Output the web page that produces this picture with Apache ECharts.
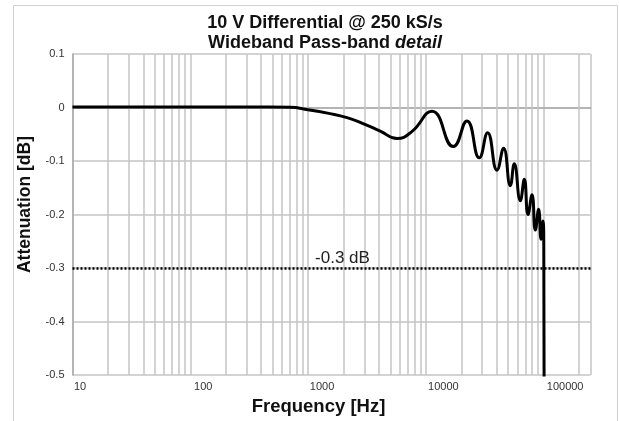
<!DOCTYPE html>
<html>
<head>
<meta charset="utf-8">
<script src="https://cdn.jsdelivr.net/npm/echarts@6/dist/echarts.min.js"></script>
<style>
  html, body { margin: 0; padding: 0; background: #fff; }
  #chart { width: 619px; height: 421px; }
</style>
</head>
<body>
<div id="chart"></div>
<script>
// frequency response (Hz, dB)
const freqHz = [10, 100, 300, 700, 1000, 1500, 2140, 3000, 4100, 5690, 7600, 11270,
  17100, 22340, 28430, 33440, 40180, 45710, 52120, 56360, 63400, 68560,
  73680, 79670, 85030, 90660, 95000, 98800, 100300, 101400]
const attenDb = [0.001, 0.001, 0.001, 0.0005, -0.004, -0.011, -0.019, -0.031, -0.044, -0.058, -0.045, -0.007,
  -0.073, -0.025, -0.094, -0.047, -0.117, -0.076, -0.146, -0.105, -0.174, -0.134,
  -0.2, -0.163, -0.229, -0.19, -0.246, -0.212, -0.26, -0.7]

const yTicks = [0.1, 0, -0.1, -0.2, -0.3, -0.4, -0.5]
const xTickLabels = ['10', '100', '1000', '10000', '100000']
const limitDb = -0.3
const limitLabel = '-0.3 dB'

// minor log grid lines 20..90, 200..900, ...
const minorGrid = []
for (let dec = 10; dec <= 100000; dec *= 10) {
  for (let m = 2; m <= 9; m++) {
    if (dec * m < 250000) minorGrid.push(dec * m)
  }
}

const chart = echarts.init(document.getElementById('chart'))

const gridColor = '#c4c4c4'
const labelShift = { '10': 15, '100': 26, '1000': 28, '10000': 35, '100000': 43 }
const rich = {}
xTickLabels.forEach((t, i) => {
  rich['l' + i] = { padding: [0, 0, 0, labelShift[t]], fontSize: 11, color: '#333', fontFamily: 'Liberation Sans, Arial, sans-serif' }
})

const option = {
  animation: false,
  backgroundColor: '#fff',
  textStyle: { fontFamily: 'Liberation Sans, Arial, sans-serif' },
  title: {
    text: '10 V Differential @ 250 kS/s\n{n|Wideband Pass-band }{i|detail}',
    left: 320,
    top: 8,
    textAlign: 'center',
    textStyle: {
      fontSize: 18,
      fontWeight: 'bold',
      color: '#111',
      lineHeight: 20,
      rich: {
        n: { fontSize: 18, fontWeight: 'bold', color: '#111', lineHeight: 20 },
        i: { fontSize: 18, fontWeight: 'bold', fontStyle: 'italic', color: '#111', lineHeight: 20 }
      }
    }
  },
  graphic: [{
    type: 'rect',
    shape: { x: 13.5, y: 5.5, width: 604, height: 430 },
    style: { fill: 'none', stroke: '#d0d0d0', lineWidth: 1 },
    silent: true
  }],
  grid: { left: 72.5, right: 28.5, top: 54, bottom: 41 },
  xAxis: {
    type: 'log',
    logBase: 10,
    min: 10,
    max: 250000,
    name: 'Frequency [Hz]',
    nameLocation: 'middle',
    nameGap: 21,
    nameTextStyle: { fontSize: 18.5, fontWeight: 'bold', color: '#111', padding: [0, 26, 0, 0] },
    axisLine: { show: true, lineStyle: { color: '#aaa', width: 1.5 } },
    axisTick: { show: false },
    splitLine: { show: true, lineStyle: { color: gridColor, width: 1.5 } },
    axisLabel: {
      margin: 6,
      showMaxLabel: false,
      formatter: function (v) {
        const s = String(Math.round(v))
        const i = xTickLabels.indexOf(s)
        return i < 0 ? '' : '{l' + i + '|' + s + '}'
      },
      rich: rich
    }
  },
  yAxis: {
    type: 'value',
    min: -0.5,
    max: 0.1,
    interval: 0.1,
    name: 'Attenuation [dB]',
    nameLocation: 'middle',
    nameGap: 34,
    nameTextStyle: { fontSize: 17.5, fontWeight: 'bold', color: '#111', padding: [0, 0, 0, 20] },
    axisLine: { show: true, lineStyle: { color: '#aaa', width: 1.5 } },
    axisTick: { show: false },
    splitLine: { show: true, lineStyle: { color: gridColor, width: 1.5 } },
    axisLabel: {
      margin: 8,
      fontSize: 11,
      color: '#333',
      padding: [6, 0, 0, 0],
      formatter: function (v) {
        const r = Math.round(v * 10) / 10
        return yTicks.indexOf(r) < 0 ? '' : (r === 0 ? '0' : r.toFixed(1))
      }
    }
  },
  series: [
    {
      // minor log grid
      type: 'line',
      data: [],
      silent: true,
      markLine: {
        silent: true,
        symbol: 'none',
        label: { show: false },
        lineStyle: { color: gridColor, width: 1.5, type: 'solid' },
        data: minorGrid.map(v => ({ xAxis: v }))
      }
    },
    {
      name: 'response',
      type: 'line',
      data: freqHz.map((f, i) => [f, attenDb[i]]),
      smooth: 0.5,
      showSymbol: false,
      clip: true,
      lineStyle: { color: '#000', width: 3 },
      z: 5,
      markLine: {
        silent: true,
        symbol: 'none',
        lineStyle: { color: '#000', width: 2.5, type: [2, 2] },
        label: {
          show: true,
          position: 'insideMiddleTop',
          formatter: limitLabel,
          fontSize: 17,
          color: '#222',
          distance: 1,
          padding: [0, 0, 0, 22]
        },
        data: [{ yAxis: limitDb }]
      }
    }
  ]
}

chart.setOption(option)
</script>
</body>
</html>
